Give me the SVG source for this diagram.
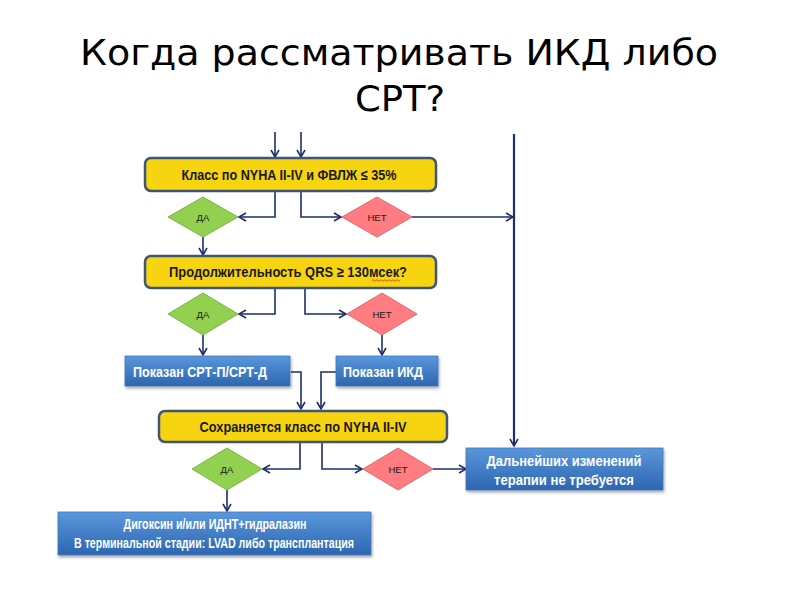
<svg xmlns="http://www.w3.org/2000/svg" width="800" height="600" viewBox="0 0 800 600">
<defs>
<linearGradient id="blue" x1="0" y1="0" x2="0" y2="1">
<stop offset="0" stop-color="#5a97dc"/>
<stop offset="1" stop-color="#2c66b0"/>
</linearGradient>
<filter id="sh" x="-10%" y="-20%" width="120%" height="150%">
<feDropShadow dx="1" dy="2" stdDeviation="1.5" flood-color="#000" flood-opacity="0.35"/>
</filter>
<marker id="ar" markerWidth="10" markerHeight="10" refX="8" refY="5" orient="auto" markerUnits="userSpaceOnUse">
<path d="M1,1 L8,5 L1,9" fill="none" stroke="#1d2e6b" stroke-width="1.6"/>
</marker>
<style>
.title{font-family:"DejaVu Sans",sans-serif;font-size:36px;fill:#000}
.yb{fill:#f6d40f;stroke:#3e5478;stroke-width:2.5}
.bb{fill:url(#blue);stroke:#4477bb;stroke-width:0.8;filter:url(#sh)}
.gd{fill:#92d050;stroke:#7fb24a;stroke-width:1}
.rd{fill:#ff7c80;stroke:#e06a6e;stroke-width:1}
.bt{font-family:"Liberation Sans Narrow","Liberation Sans",Arial,sans-serif;font-weight:bold;fill:#1a1a1a;font-size:15px}
.wt{font-family:"Liberation Sans Narrow","Liberation Sans",Arial,sans-serif;font-weight:bold;fill:#fff;font-size:15px}
.dt{font-family:"Liberation Sans",Arial,sans-serif;fill:#1a1a1a;font-size:9.5px}
.c{fill:none;stroke:#1d2e6b;stroke-width:1.6}
</style>
</defs>
<text class="title" x="399" y="65" text-anchor="middle" textLength="638" lengthAdjust="spacingAndGlyphs">Когда рассматривать ИКД либо</text>
<text class="title" x="400" y="111" text-anchor="middle" textLength="90" lengthAdjust="spacingAndGlyphs">СРТ?</text>

<g id="connectors">
<path class="c" d="M275,132 V157" marker-end="url(#ar)"/>
<path class="c" d="M301,132 V157" marker-end="url(#ar)"/>
<path class="c" d="M275,191 V217 H239" marker-end="url(#ar)"/>
<path class="c" d="M301,191 V217 H341" marker-end="url(#ar)"/>
<path class="c" d="M412,217 H513" marker-end="url(#ar)"/>
<path class="c" style="stroke-width:2.2" d="M514,134 V446" marker-end="url(#ar)"/>
<path class="c" d="M203,237 V255" marker-end="url(#ar)"/>
<path class="c" d="M275,288 V314 H239" marker-end="url(#ar)"/>
<path class="c" d="M305,288 V314 H346" marker-end="url(#ar)"/>
<path class="c" d="M203,335 V355" marker-end="url(#ar)"/>
<path class="c" d="M382,335 V355" marker-end="url(#ar)"/>
<path class="c" d="M291,372 H301 V409" marker-end="url(#ar)"/>
<path class="c" d="M336,372 H321 V409" marker-end="url(#ar)"/>
<path class="c" d="M300,442 V469 H263" marker-end="url(#ar)"/>
<path class="c" d="M322,442 V469 H362" marker-end="url(#ar)"/>
<path class="c" d="M433,469 H466" marker-end="url(#ar)"/>
<path class="c" d="M227,490 V511" marker-end="url(#ar)"/>
</g>

<g id="n1">
<rect class="yb" x="145" y="158" width="291" height="33" rx="6"/>
<text class="bt" x="289" y="180" text-anchor="middle" textLength="215" lengthAdjust="spacingAndGlyphs">Класс по NYHA II-IV и ФВЛЖ ≤ 35%</text>
</g>
<g id="d1">
<polygon class="gd" points="203,197 238,217 203,237 168,217"/>
<text class="dt" x="203" y="220.5" text-anchor="middle">ДА</text>
</g>
<g id="d2">
<polygon class="rd" points="377,197 412,217 377,237 342,217"/>
<text class="dt" x="377" y="220.5" text-anchor="middle">НЕТ</text>
</g>
<g id="n2">
<rect class="yb" x="145" y="256" width="291" height="32" rx="6"/>
<text class="bt" x="288" y="277" text-anchor="middle" textLength="238" lengthAdjust="spacingAndGlyphs">Продолжительность QRS ≥ 130мсек?</text>
<path d="M372,280.5 q1,-1.5 2,0 t2,0 t2,0 t2,0 t2,0 t2,0 t2,0 t2,0 t2,0 t2,0 t2,0 t2,0 t2,0 t2,0" fill="none" stroke="#e03030" stroke-width="0.8"/>
</g>
<g id="d3">
<polygon class="gd" points="203,293 238,314 203,335 168,314"/>
<text class="dt" x="203" y="317.5" text-anchor="middle">ДА</text>
</g>
<g id="d4">
<polygon class="rd" points="382,293 417,314 382,335 347,314"/>
<text class="dt" x="382" y="317.5" text-anchor="middle">НЕТ</text>
</g>
<g id="n3">
<rect class="bb" x="125" y="356" width="165" height="30"/>
<text class="wt" x="200" y="376.5" text-anchor="middle" textLength="134" lengthAdjust="spacingAndGlyphs">Показан СРТ-П/СРТ-Д</text>
</g>
<g id="n4">
<rect class="bb" x="336" y="356" width="102" height="30"/>
<text class="wt" x="383" y="376.5" text-anchor="middle" textLength="80" lengthAdjust="spacingAndGlyphs">Показан ИКД</text>
</g>
<g id="n5">
<rect class="yb" x="159" y="411" width="288" height="31" rx="6"/>
<text class="bt" x="303" y="432" text-anchor="middle" textLength="207" lengthAdjust="spacingAndGlyphs">Сохраняется класс по NYHA II-IV</text>
</g>
<g id="d5">
<polygon class="gd" points="227,448 262,469 227,490 192,469"/>
<text class="dt" x="227" y="472.5" text-anchor="middle">ДА</text>
</g>
<g id="d6">
<polygon class="rd" points="398,448 433,469 398,490 363,469"/>
<text class="dt" x="398" y="472.5" text-anchor="middle">НЕТ</text>
</g>
<g id="n6">
<rect class="bb" x="466" y="448" width="197" height="42"/>
<text class="wt" x="564" y="466" text-anchor="middle" font-size="13" textLength="155" lengthAdjust="spacingAndGlyphs">Дальнейших изменений</text>
<text class="wt" x="564" y="485" text-anchor="middle" font-size="13" textLength="140" lengthAdjust="spacingAndGlyphs">терапии не требуется</text>
</g>
<g id="n7">
<rect class="bb" x="58" y="512" width="313" height="43"/>
<text class="wt" x="215" y="529" text-anchor="middle" font-size="11.5" textLength="183" lengthAdjust="spacingAndGlyphs">Дигоксин и/или ИДНТ+гидралазин</text>
<text class="wt" x="214" y="548" text-anchor="middle" font-size="11.5" textLength="280" lengthAdjust="spacingAndGlyphs">В терминальной стадии: LVAD либо трансплантация</text>
</g>
</svg>
